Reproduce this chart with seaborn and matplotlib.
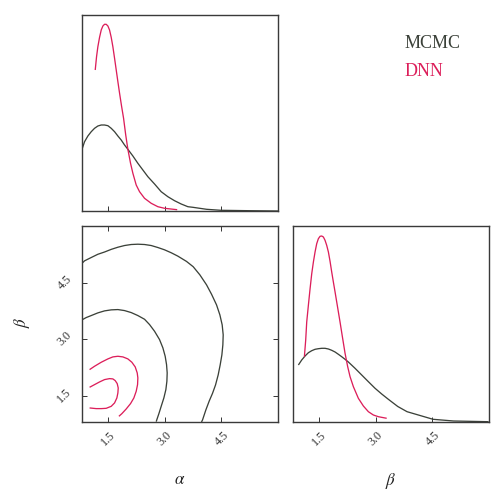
import numpy as np
import pandas as pd
import matplotlib
matplotlib.use("Agg")
import matplotlib.pyplot as plt
import seaborn as sns

# ---- data ----
# 1D marginal of alpha (relative density)
mcmc_alpha_x = [0.80, 0.868, 0.956, 1.045, 1.133, 1.221, 1.310, 1.398, 1.487, 1.575, 1.664, 1.752, 1.840,
                1.929, 2.017, 2.150, 2.282, 2.415, 2.548, 2.725, 2.901, 3.078, 3.255, 3.432, 3.609, 3.741,
                4.105, 4.484, 5.25, 6.0]
mcmc_alpha_d = [0.617, 0.693, 0.75, 0.793, 0.827, 0.85, 0.86, 0.86, 0.853, 0.827, 0.793, 0.75, 0.71,
                0.66, 0.617, 0.55, 0.477, 0.41, 0.343, 0.27, 0.193, 0.143, 0.103, 0.07, 0.043, 0.037,
                0.017, 0.007, 0.003, 0.0]
dnn_alpha_x = [1.151, 1.186, 1.221, 1.266, 1.310, 1.354, 1.398, 1.442, 1.487, 1.531, 1.575, 1.619, 1.664,
               1.708, 1.752, 1.797, 1.849, 1.903, 1.96, 2.017, 2.088, 2.150, 2.238, 2.327, 2.459, 2.636,
               2.813, 2.990, 3.326]
dnn_alpha_d = [1.41, 1.543, 1.643, 1.737, 1.81, 1.85, 1.867, 1.867, 1.85, 1.81, 1.737, 1.643, 1.527,
               1.41, 1.293, 1.177, 1.05, 0.927, 0.76, 0.617, 0.477, 0.377, 0.26, 0.193, 0.127, 0.077,
               0.043, 0.027, 0.013]

# 1D marginal of beta
mcmc_beta_x = [0.943, 1.031, 1.120, 1.208, 1.297, 1.385, 1.473, 1.562, 1.650, 1.739, 1.827, 1.916, 2.004,
               2.092, 2.181, 2.269, 2.446, 2.623, 2.80, 2.977, 3.153, 3.330, 3.58, 3.826, 4.516, 5.06, 5.99]
mcmc_beta_d = [0.57, 0.62, 0.66, 0.693, 0.713, 0.727, 0.733, 0.737, 0.737, 0.73, 0.717, 0.70, 0.677,
               0.653, 0.627, 0.60, 0.537, 0.47, 0.403, 0.337, 0.28, 0.227, 0.155, 0.103, 0.027, 0.01, 0.003]
dnn_beta_x = [1.102, 1.137, 1.164, 1.208, 1.253, 1.297, 1.341, 1.385, 1.429, 1.473, 1.518, 1.562, 1.606,
              1.650, 1.694, 1.739, 1.783, 1.827, 1.871, 1.916, 1.960, 2.004, 2.048, 2.110, 2.181, 2.251,
              2.314, 2.402, 2.534, 2.667, 2.80, 2.932, 3.065, 3.286]
dnn_beta_d = [0.653, 0.82, 1.00, 1.167, 1.333, 1.483, 1.60, 1.70, 1.783, 1.833, 1.857, 1.86, 1.85,
              1.817, 1.767, 1.70, 1.607, 1.50, 1.40, 1.30, 1.20, 1.10, 1.00, 0.853, 0.687, 0.553,
              0.453, 0.353, 0.237, 0.16, 0.103, 0.07, 0.053, 0.037]

# 2D contour lines (alpha, beta)
mcmc_outer_a = [0.80, 0.868, 1.045, 1.221, 1.398, 1.575, 1.752, 1.929, 2.106, 2.282, 2.459, 2.636, 2.813,
                2.990, 3.167, 3.344, 3.573, 3.750, 3.927, 4.104, 4.237, 4.369, 4.458, 4.519, 4.546, 4.537,
                4.511, 4.466, 4.413, 4.343, 4.263, 4.175, 4.086, 3.998, 3.97]
mcmc_outer_b = [5.01, 5.076, 5.164, 5.25, 5.31, 5.38, 5.437, 5.482, 5.509, 5.517, 5.509, 5.482, 5.429,
                5.368, 5.29, 5.20, 5.06, 4.92, 4.704, 4.439, 4.189, 3.908, 3.642, 3.377, 3.111, 2.846,
                2.580, 2.315, 2.050, 1.784, 1.561, 1.356, 1.120, 0.855, 0.80]
mcmc_inner_a = [0.80, 0.912, 1.045, 1.221, 1.398, 1.575, 1.752, 1.929, 2.106, 2.282, 2.459, 2.592, 2.725,
                2.857, 2.946, 3.007, 3.043, 3.060, 3.052, 3.025, 2.972, 2.901, 2.840, 2.786, 2.769]
mcmc_inner_b = [3.51, 3.571, 3.624, 3.695, 3.748, 3.775, 3.783, 3.756, 3.703, 3.624, 3.526, 3.385, 3.207,
                2.987, 2.766, 2.543, 2.323, 2.103, 1.880, 1.659, 1.439, 1.216, 1.022, 0.863, 0.81]
dnn_outer_a = [1.001, 1.133, 1.310, 1.487, 1.619, 1.752, 1.885, 2.017, 2.123, 2.212, 2.265, 2.282, 2.274,
               2.238, 2.176, 2.088, 1.973, 1.858, 1.779]
dnn_outer_b = [2.190, 2.279, 2.385, 2.474, 2.527, 2.544, 2.527, 2.474, 2.385, 2.261, 2.102, 1.970, 1.792,
               1.615, 1.438, 1.288, 1.146, 1.022, 0.951]
dnn_inner_a = [1.001, 1.133, 1.266, 1.398, 1.531, 1.619, 1.681, 1.734, 1.761, 1.752, 1.725, 1.664, 1.575,
               1.442, 1.310, 1.177, 1.001]
dnn_inner_b = [1.721, 1.792, 1.863, 1.925, 1.951, 1.943, 1.898, 1.819, 1.703, 1.571, 1.438, 1.306, 1.216,
               1.163, 1.155, 1.155, 1.173]

ticks = [1.5, 3.0, 4.5]
tick_labels = ["1.5", "3.0", "4.5"]
series_names = ["MCMC", "DNN"]
colors = {"MCMC": "#3b4139", "DNN": "#dc1e5a"}

# ---- style ----
sns.set_theme(style="white")
plt.rcParams["font.family"] = ["Liberation Serif", "DejaVu Serif"]
plt.rcParams["mathtext.fontset"] = "stix"

fig = plt.figure(figsize=(7, 7), dpi=72)
W = 196 / 504
ax_a = fig.add_axes([82 / 504, 1 - 211 / 504, W, W])
ax_2d = fig.add_axes([82 / 504, 1 - 422 / 504, W, W])
ax_b = fig.add_axes([293 / 504, 1 - 422 / 504, W, W])

lw = 1.3
xlim = (0.8, 6.0)

def line(ax, x, y, name):
    df = pd.DataFrame({"x": x, "y": y})
    sns.lineplot(data=df, x="x", y="y", ax=ax, sort=False, estimator=None,
                 color=colors[name], linewidth=lw, solid_joinstyle="round",
                 solid_capstyle="butt")

line(ax_a, mcmc_alpha_x, mcmc_alpha_d, "MCMC")
line(ax_a, dnn_alpha_x, dnn_alpha_d, "DNN")
line(ax_b, mcmc_beta_x, mcmc_beta_d, "MCMC")
line(ax_b, dnn_beta_x, dnn_beta_d, "DNN")
line(ax_2d, mcmc_outer_a, mcmc_outer_b, "MCMC")
line(ax_2d, mcmc_inner_a, mcmc_inner_b, "MCMC")
line(ax_2d, dnn_outer_a, dnn_outer_b, "DNN")
line(ax_2d, dnn_inner_a, dnn_inner_b, "DNN")

for ax in (ax_a, ax_b, ax_2d):
    ax.set_xlim(*xlim)
    ax.set_xlabel("")
    ax.set_ylabel("")
    for s in ax.spines.values():
        s.set_color("#3a3a3a")
        s.set_linewidth(1.4)
    ax.set_xticks(ticks)
    ax.tick_params(direction="in", length=5, width=1, color="#3a3a3a",
                   labelsize=12, labelcolor="#333333")

ax_a.set_ylim(0, 1.96)
ax_b.set_ylim(0, 1.96)
ax_a.set_yticks([])
ax_b.set_yticks([])
ax_a.set_xticklabels([])
ax_a.tick_params(axis="x", bottom=True)
ax_b.tick_params(axis="x", bottom=True)
ax_b.set_xticklabels(tick_labels, rotation=45, ha="center", va="top")

ax_2d.set_ylim(0.8, 6.0)
ax_2d.set_yticks(ticks)
ax_2d.set_xticklabels(tick_labels, rotation=45, ha="center", va="top")
ax_2d.set_yticklabels(tick_labels, rotation=45, ha="right", va="center")
ax_2d.tick_params(top=True, right=True, bottom=True, left=True)
ax_2d.tick_params(axis="x", pad=7)
ax_2d.tick_params(axis="y", pad=8)
ax_b.tick_params(axis="x", pad=7)

fig.text(180 / 504, 1 - 480 / 504, r"$\alpha$", fontsize=17, ha="center", va="center", color="#222222")
fig.text(391 / 504, 1 - 481 / 504, r"$\beta$", fontsize=17, ha="center", va="center", color="#222222")
fig.text(22 / 504, 1 - 322 / 504, r"$\beta$", fontsize=17, ha="center", va="center", rotation=90, color="#222222")

fig.text(405 / 504, 1 - 43 / 504, series_names[0], fontsize=18, ha="left", va="center", color=colors["MCMC"])
fig.text(405 / 504, 1 - 72 / 504, series_names[1], fontsize=18, ha="left", va="center", color=colors["DNN"])

fig.savefig("out.png", dpi=72)
